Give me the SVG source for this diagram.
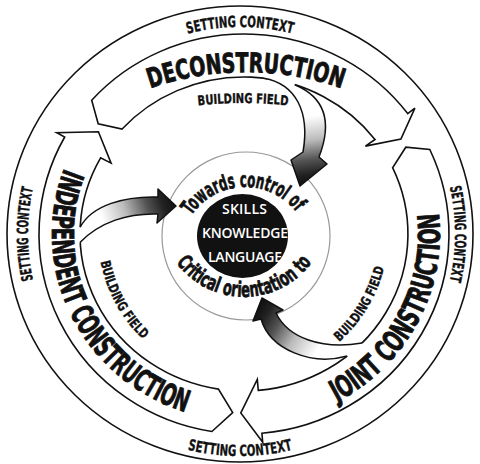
<svg xmlns="http://www.w3.org/2000/svg" width="480" height="464" viewBox="0 0 480 464">
<defs>
<style>
.band{fill:#fff;stroke:#111;stroke-width:1.6;stroke-linejoin:miter}
.edge{fill:none;stroke:#111;stroke-width:1.5;stroke-linejoin:round}
.cond{font-family:"Liberation Sans Narrow","DejaVu Sans","Liberation Sans",sans-serif;font-stretch:condensed;font-weight:bold;fill:#111;stroke:#111}
.ctx{font-size:15.5px;stroke-width:0.35}
.stage{font-size:30px;stroke-width:0.9}
.stageD{font-size:27px;stroke-width:0.9}
.bf{font-size:13.5px;stroke-width:0.35}
.orient{font-size:21px;stroke-width:0.7}
.core{font-family:"Open Sans","Liberation Sans",sans-serif;font-weight:600;font-size:14px;fill:#fff;text-anchor:middle}
</style>
<linearGradient id="gD" gradientUnits="userSpaceOnUse" x1="292" y1="90" x2="305" y2="184">
<stop offset="0" stop-color="#fff"/><stop offset="0.3" stop-color="#fff"/><stop offset="0.55" stop-color="#bbb"/><stop offset="0.75" stop-color="#555"/><stop offset="0.9" stop-color="#222"/><stop offset="1" stop-color="#111"/>
</linearGradient>
<linearGradient id="gJ" gradientUnits="userSpaceOnUse" x1="350" y1="356" x2="262" y2="302">
<stop offset="0" stop-color="#fff"/><stop offset="0.3" stop-color="#fff"/><stop offset="0.55" stop-color="#bbb"/><stop offset="0.75" stop-color="#555"/><stop offset="0.9" stop-color="#222"/><stop offset="1" stop-color="#111"/>
</linearGradient>
<linearGradient id="gI" gradientUnits="userSpaceOnUse" x1="82" y1="236" x2="175" y2="204">
<stop offset="0" stop-color="#fff"/><stop offset="0.25" stop-color="#fff"/><stop offset="0.5" stop-color="#bbb"/><stop offset="0.72" stop-color="#555"/><stop offset="0.88" stop-color="#222"/><stop offset="1" stop-color="#111"/>
</linearGradient>
<path id="tpCtxTop" d="M 60.7,130.5 A 207 207 0 0 1 419.3,130.5"/>
<path id="tpCtxRight" d="M 347.5,47.8 A 215 215 0 0 1 347.5,420.2"/>
<path id="tpCtxLeft" d="M 134,417.6 A 212 212 0 0 1 134,50.4"/>
<path id="tpCtxBottom" d="M 47.7,345 A 222 222 0 0 0 432.3,345"/>
<path id="tpDecon" d="M 101,110.9 A 290 290 0 0 1 391,110.9"/>
<path id="tpJoint" d="M 278,422.1 A 196 191 0 0 0 421.6,153.3"/>
<path id="tpIndep" d="M 76.5,142.6 A 192 187 0 0 0 213.1,418.6"/>
<path id="tpBfD" d="M 139.5,116.6 A 400 400 0 0 1 346.5,116.6"/>
<path id="tpBfI" d="M 98.0,230.4 A 146 146 0 0 0 167.9,358.6"/>
<path id="tpBfJ" d="M 313.8,359.9 A 144 144 0 0 0 387.98,236.5"/>
<path id="tpTop" d="M 183.2,231.9 A 65 65 0 0 1 305.3,227.7"/>
<path id="tpBot" d="M 165.1,241.7 A 84 84 0 0 0 322.9,241.7"/>
</defs>
<rect width="480" height="464" fill="#fff"/>

<g id="setting-context">
<ellipse cx="240" cy="234" rx="233" ry="228" fill="none" stroke="#111" stroke-width="1.6"/>
<text class="cond ctx" text-anchor="middle"><textPath href="#tpCtxTop" startOffset="50%" textLength="106" lengthAdjust="spacingAndGlyphs">SETTING CONTEXT</textPath></text>
<text class="cond ctx" text-anchor="middle"><textPath href="#tpCtxRight" startOffset="50%" textLength="95" lengthAdjust="spacingAndGlyphs">SETTING CONTEXT</textPath></text>
<text class="cond ctx" text-anchor="middle"><textPath href="#tpCtxLeft" startOffset="50%" textLength="93" lengthAdjust="spacingAndGlyphs">SETTING CONTEXT</textPath></text>
<text class="cond ctx" text-anchor="middle"><textPath href="#tpCtxBottom" startOffset="50%" textLength="106" lengthAdjust="spacingAndGlyphs">SETTING CONTEXT</textPath></text>
</g>

<g id="deconstruction">
<path class="band" d="M 91.7,100.2 A 205 200 0 0 1 407.7,113.6 L 414.9,108.2 L 400.9,139.1 L 365.4,146.1 L 375.0,139.5 A 164 157 0 0 0 122.1,129.0 L 98.2,123.8 Z"/>
<text class="cond stageD" text-anchor="middle"><textPath href="#tpDecon" startOffset="50%" textLength="195" lengthAdjust="spacingAndGlyphs">DECONSTRUCTION</textPath></text>
</g>

<g id="joint-construction">
<path class="band" d="M 429.8,149.5 A 205 200 0 0 1 261.9,433.2 L 262.7,442.2 L 240.8,413 L 257.3,379.4 L 258.3,390.4 A 164 157 0 0 0 392.6,167.7 L 405.8,147.2 Z"/>
<text class="cond stage" text-anchor="middle"><textPath href="#tpJoint" startOffset="50%" textLength="228" lengthAdjust="spacingAndGlyphs">JOINT CONSTRUCTION</textPath></text>
</g>

<g id="independent-construction">
<path class="band" d="M 211.9,431.5 A 205 200 0 0 1 64.7,137.0 L 56.8,132.7 L 98.4,131.7 L 111.1,163.2 L 100.6,157.9 A 164 157 0 0 0 218.4,389.1 L 232.7,412.7 Z"/>
<text class="cond stage" text-anchor="middle"><textPath href="#tpIndep" startOffset="50%" textLength="305" lengthAdjust="spacingAndGlyphs">INDEPENDENT CONSTRUCTION</textPath></text>
</g>

<g id="center">
<circle cx="246" cy="236" r="84" fill="none" stroke="#999" stroke-width="1.2"/>
<ellipse cx="242.5" cy="236" rx="45.5" ry="42" fill="#111"/>
<text class="core" x="244.5" y="214" textLength="45" lengthAdjust="spacing">SKILLS</text>
<text class="core" x="245" y="238" textLength="86" lengthAdjust="spacing">KNOWLEDGE</text>
<text class="core" x="245" y="262" textLength="74" lengthAdjust="spacing">LANGUAGE</text>
<text class="cond orient" text-anchor="middle"><textPath href="#tpTop" startOffset="50%" textLength="122" lengthAdjust="spacingAndGlyphs">Towards control of</textPath></text>
<text class="cond orient" text-anchor="middle"><textPath href="#tpBot" startOffset="50%" textLength="158" lengthAdjust="spacingAndGlyphs">Critical orientation to</textPath></text>
</g>

<g id="connectors">
<g id="building-field-deconstruction">
<path fill="url(#gD)" d="M 264,78.2 C 296,84 310,112 303,152 L 291,160 L 300,186 L 327,164 L 319,157 C 334,118 322,96 294.7,84.7 L 295.6,81.8 A 167 160 0 0 0 264.4,75.2 Z"/>
<path class="edge" d="M 264,78.2 C 296,84 310,112 303,152 L 291,160 L 300,186 L 327,164 L 319,157 C 334,118 322,96 294.7,84.7"/>
<text class="cond bf" text-anchor="middle"><textPath href="#tpBfD" startOffset="50%" textLength="90" lengthAdjust="spacingAndGlyphs">BUILDING FIELD</textPath></text>
</g>
<g id="building-field-joint">
<path fill="url(#gJ)" d="M 347.2,356 C 312,366 270,350 261,319 L 253,321 L 262,298 L 283,310 L 276,313 C 288,338 322,350 362,343.1 L 364.1,345.2 A 167 160 0 0 1 349.1,358.3 Z"/>
<path class="edge" d="M 347.2,356 C 312,366 270,350 261,319 L 253,321 L 262,298 L 283,310 L 276,313 C 288,338 322,350 362,343.1"/>
<text class="cond bf" text-anchor="middle"><textPath href="#tpBfJ" startOffset="50%" textLength="88" lengthAdjust="spacingAndGlyphs">BUILDING FIELD</textPath></text>
</g>
<g id="building-field-independent">
<path fill="url(#gI)" d="M 80.2,227.2 C 92,205 125,196 158,197 L 158,189 L 176,206 L 157,223 L 158,214 C 128,213 100,222 80.2,242.2 L 77.2,242.4 A 167 160 0 0 1 77.2,227 Z"/>
<path class="edge" d="M 80.2,227.2 C 92,205 125,196 158,197 L 158,189 L 176,206 L 157,223 L 158,214 C 128,213 100,222 80.2,242.2"/>
<text class="cond bf" text-anchor="middle"><textPath href="#tpBfI" startOffset="50%" textLength="90" lengthAdjust="spacingAndGlyphs">BUILDING FIELD</textPath></text>
</g>
</g>
</svg>
